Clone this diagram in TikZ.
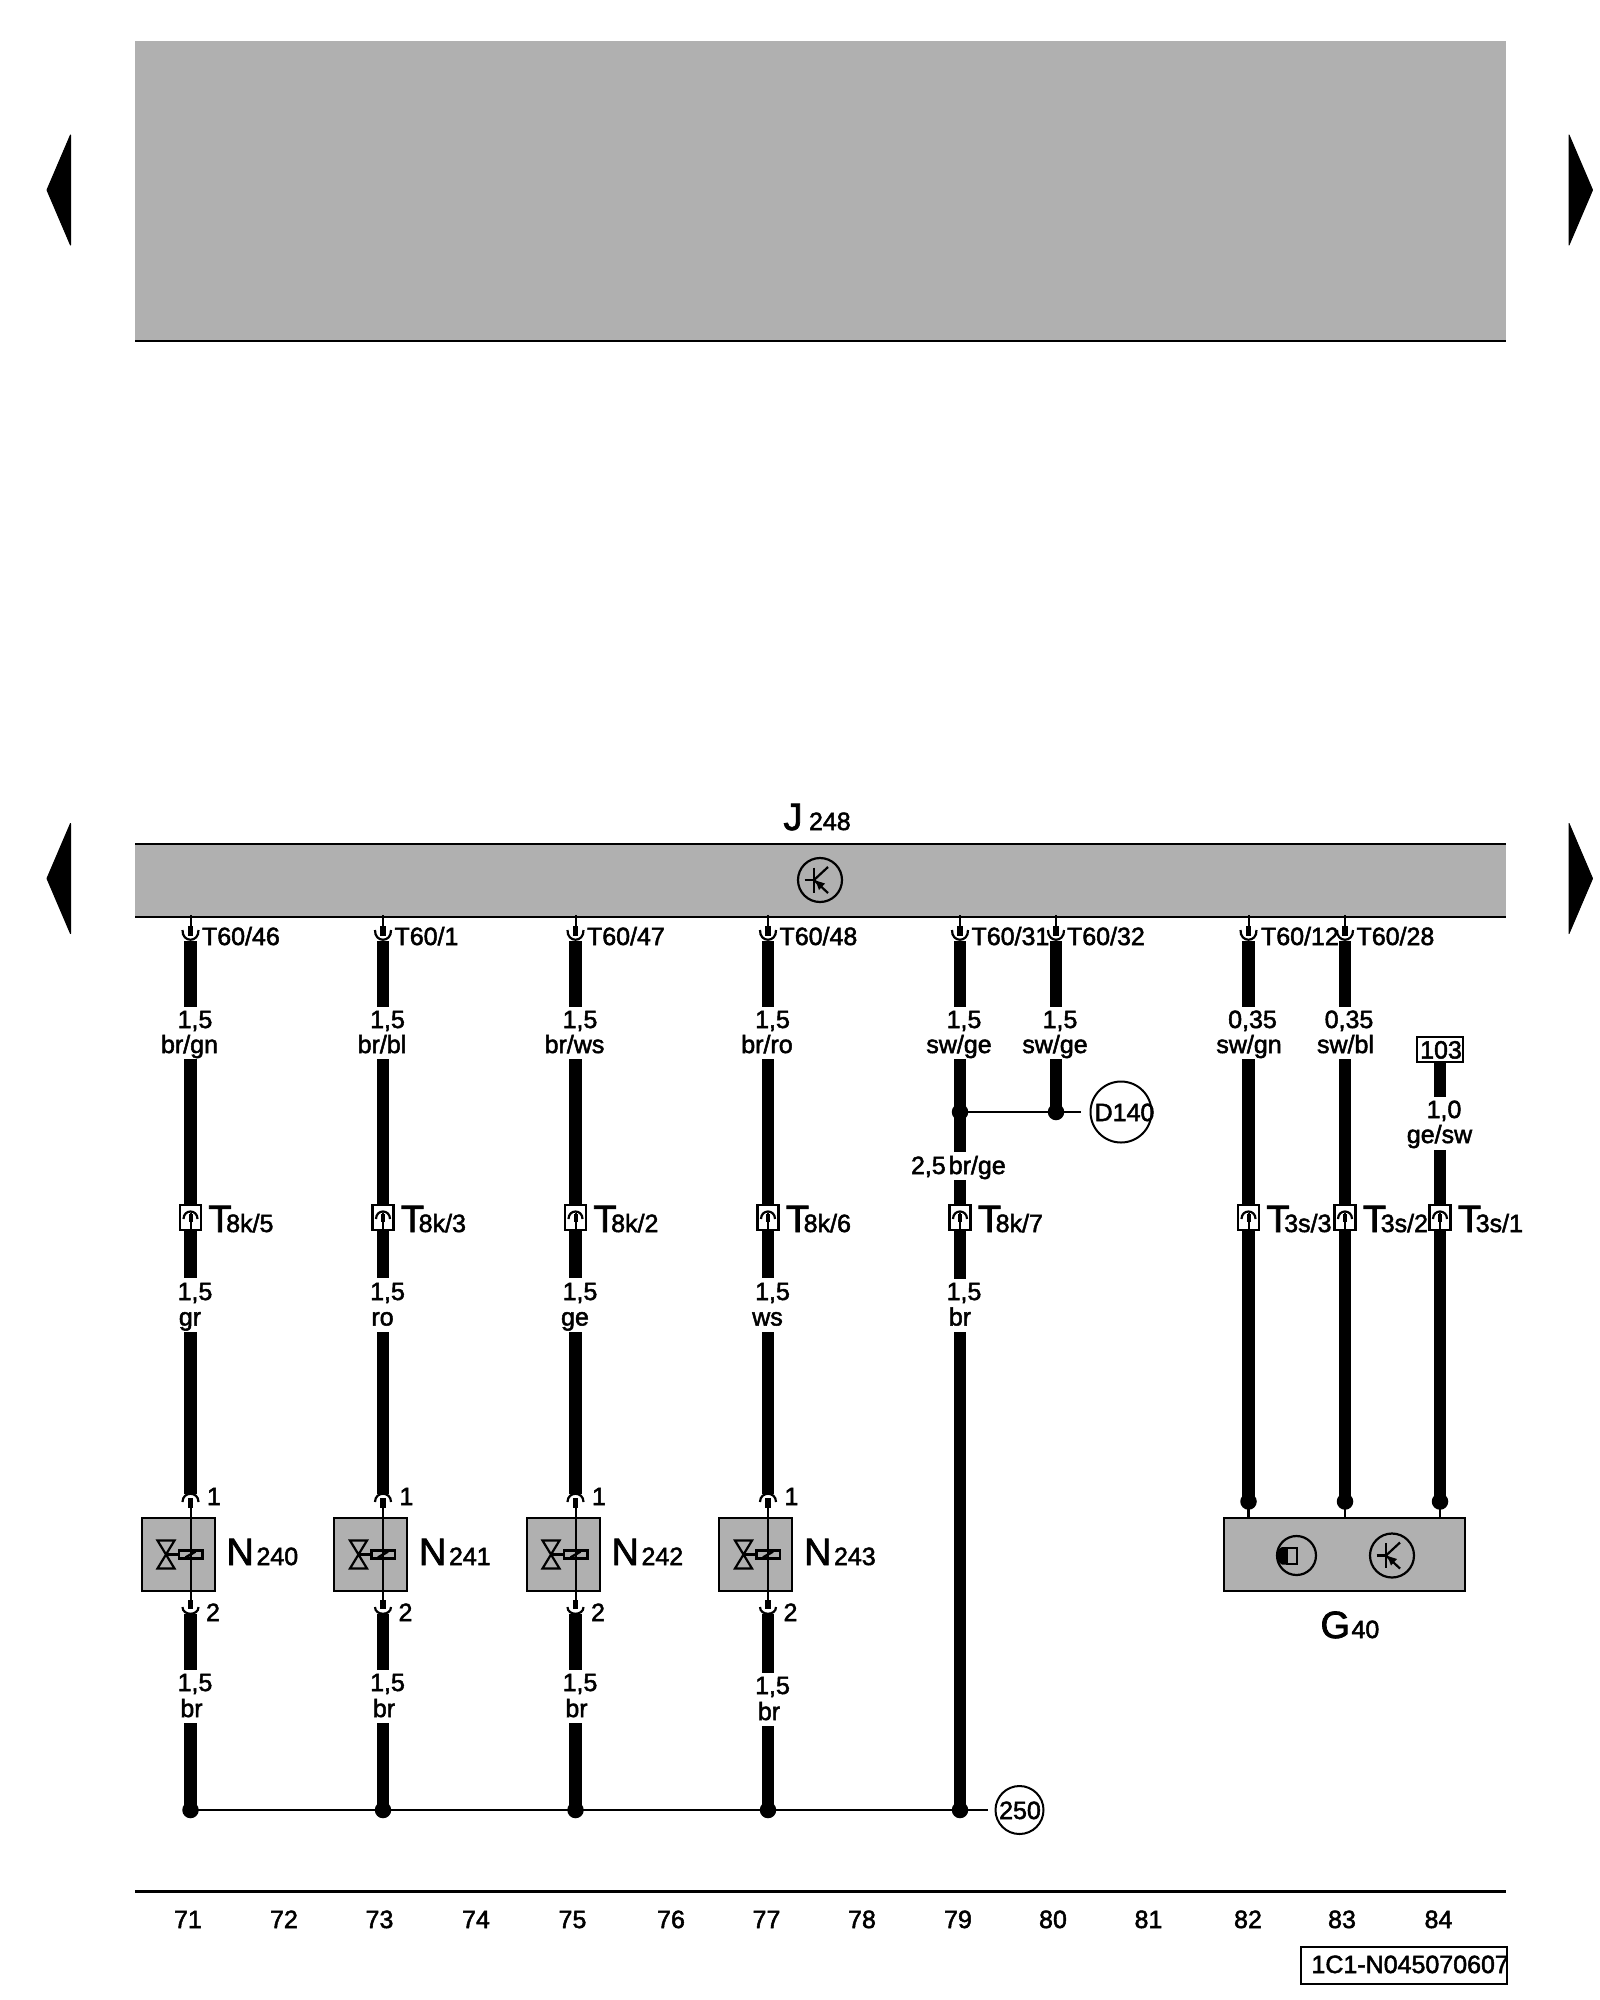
\documentclass[tikz,border=0pt]{standalone}
\usepackage{fontspec}
\setmainfont[FakeBold=2]{Liberation Sans}
\definecolor{panel}{HTML}{B0B0B0}
\newcommand{\txta}{\fontsize{25}{25}\selectfont}
\newcommand{\txtb}{\fontsize{38}{38}\selectfont}
\tikzset{
  bigwire/.style={line width=12.5pt,line cap=butt,black},
  thinwire/.style={line width=2.2pt,black},
  panelbox/.style={fill=panel,draw=black,line width=2.2pt},
  lbl/.style={inner sep=0pt,outer sep=0pt,font=\txta,anchor=base},
  lblw/.style={inner sep=0pt,outer sep=0pt,font=\txta,anchor=base west},
  big/.style={inner sep=0pt,outer sep=0pt,font=\txtb,anchor=base west},
  jdot/.style={circle,fill=black,inner sep=0pt,minimum size=16.5pt},
  refcircle/.style={circle,draw=black,line width=2pt,inner sep=0pt,minimum size=#1},
  triangle mark/.style={fill=black,line join=round,draw=black,line width=1pt},
  pintop/.pic={
    \draw[line width=2pt] (0,-2) -- (0,12);
    \draw[line width=5.5pt] (0,9) -- (0,19);
    \draw[line width=2.2pt] (-8,13) .. controls (-8.5,26) and (8.5,26) .. (8,13);
  },
  pinbelow/.pic={
    \draw[line width=5.5pt] (0,-10) -- (0,-1);
    \draw[line width=2.2pt] (-8,-3) .. controls (-8,6) and (8,6) .. (8,-3);
  },
  pinabove/.pic={
    \draw[line width=5.5pt] (0,1) -- (0,11);
    \draw[line width=2.2pt] (-8,5) .. controls (-8,-6) and (8,-6) .. (8,5);
  },
  plugbox/.pic={
    \draw[fill=white,line width=2.2pt] (-10.5,0) rectangle (10.5,25);
    \draw[line width=2.2pt] (-7,14) .. controls (-7,4) and (7,4) .. (7,14);
    \draw[line width=2pt] (0,8) -- (0,25);
    \draw[line width=4pt] (0,9) -- (0,17);
  },
  transsym/.pic={
    \draw[line width=2.2pt] (0,0) circle (22);
    \draw[line width=2.2pt] (-15.5,0) -- (-6,0);
    \draw[line width=2.2pt] (-6,-12.5) -- (-6,12.5);
    \draw[line width=2.2pt] (-6,0) -- (8,-13);
    \draw[line width=2.2pt] (-6,0) -- (8,13);
    \fill (-4.5,0.5) -- (5,3.5) -- (-1,10) -- cycle;
  },
  valvesym/.pic={
    \draw[line width=2.2pt] (-33,-14) -- (-16,-14) -- (-33,14) -- (-16,14) -- cycle;
    \draw[line width=2.2pt] (-24.5,0) -- (-11.5,0);
    \draw[line width=2.2pt,fill=panel] (-11.5,-4) rectangle (12,4);
    \draw[line width=2pt] (0,-50) -- (0,46);
    \draw[line width=2.5pt] (-5,3) -- (5,-3);
  }
}
\begin{document}
\begin{tikzpicture}[x=1pt,y=-1pt]
\useasboundingbox (0,0) rectangle (1600,2000);
\fill[white] (0,0) rectangle (1600,2000);
% page arrows and panels
\foreach \n/\cy in {a/190,b/878.5}{
  \filldraw[triangle mark] (47,\cy) -- (70.5,\cy-55) -- (70.5,\cy+55) -- cycle;
  \filldraw[triangle mark] (1592.5,\cy) -- (1569,\cy-55) -- (1569,\cy+55) -- cycle;
}
\fill[panel] (135,41) rectangle (1505.5,340.5);
\coordinate (topl) at (135,341);
\coordinate (topr) at (1505.5,341);
\draw[thinwire] (topl) -- (topr);
\fill[panel] (135,844) rectangle (1505.5,917);
\coordinate (jtl) at (135,844); \coordinate (jtr) at (1505.5,844);
\coordinate (jbl) at (135,917); \coordinate (jbr) at (1505.5,917);
\draw[thinwire] (jtl) -- (jtr);
\draw[thinwire] (jbl) -- (jbr);
\node[big] (jname) at (783.5,830) {J};
\node[lblw] (jsub) at (809,830) {248};
\pic at (820,880) {transsym};
% four solenoid columns
\foreach \i/\x/\tp/\ca/\tk/\cb/\nn/\dd in {
  1/190.5/T60\slash 46/br\slash gn/8k\slash 5/gr/240/0,
  2/383/T60\slash 1/br\slash bl/8k\slash 3/ro/241/0,
  3/575.5/T60\slash 47/br\slash ws/8k\slash 2/ge/242/0,
  4/768/T60\slash 48/br\slash ro/8k\slash 6/ws/243/3}{
  \pic at (\x,917) {pintop};
  \coordinate (w\i-a) at (\x,941);
  \coordinate (w\i-b) at (\x,1006.5);
  \coordinate (w\i-c) at (\x,1059);
  \coordinate (w\i-d) at (\x,1278);
  \coordinate (w\i-e) at (\x,1332);
  \coordinate (w\i-f) at (\x,1494);
  \coordinate (w\i-g) at (\x,1614);
  \coordinate (w\i-h) at (\x,1670+\dd);
  \coordinate (w\i-i) at (\x,1723+\dd);
  \node[jdot] (w\i-dot) at (\x,1810) {};
  \draw[bigwire] (w\i-a) -- (w\i-b);
  \draw[bigwire] (w\i-c) -- (w\i-d);
  \draw[bigwire] (w\i-e) -- (w\i-f);
  \draw[bigwire] (w\i-g) -- (w\i-h);
  \draw[bigwire] (w\i-i) -- (w\i-dot.center);
  \node[lblw] (tp\i) at (\x+11.5,945) {\tp};
  \node[lbl] (sa\i) at (\x+4.5,1028) {1,5};
  \node[lbl] (ca\i) at (\x-1,1053) {\ca};
  \pic at (\x,1205) {plugbox};
  \node[big] (tk\i) at (\x+18,1232) {T\kern-5.5pt{\txta\tk}};
  \node[lbl] (sb\i) at (\x+4.5,1300) {1,5};
  \node[lbl] (cb\i) at (\x-0.5,1325.5) {\cb};
  \node[panelbox,minimum width=73pt,minimum height=72.5pt,inner sep=0pt] (nb\i) at (\x-12.2,1554.5) {};
  \pic at (\x,1554.5) {valvesym};
  \pic at (\x,1497) {pinabove};
  \pic at (\x,1610) {pinbelow};
  \node[lbl] (pa\i) at (\x+23.5,1505) {1};
  \node[lbl] (pb\i) at (\x+22.5,1621) {2};
  \node[big] (nl\i) at (\x+36,1565) {N};
  \node[lblw] (ns\i) at (\x+66,1565) {\nn};
  \node[lbl] (sc\i) at (\x+4.5,1691+\dd) {1,5};
  \node[lbl] (cc\i) at (\x+1,1717+\dd) {br};
}
% wire 5
\pic at (960,917) {pintop};
\coordinate (w5-a) at (960,941);
\coordinate (w5-b) at (960,1006.5);
\coordinate (w5-c) at (960,1059);
\node[jdot] (w5-j) at (960,1112) {};
\coordinate (w5-d) at (960,1152);
\coordinate (w5-e) at (960,1180);
\coordinate (w5-f) at (960,1279);
\coordinate (w5-g) at (960,1332);
\node[jdot] (w5-dot) at (960,1810) {};
\draw[bigwire] (w5-a) -- (w5-b);
\draw[bigwire] (w5-c) -- (w5-d);
\draw[bigwire] (w5-e) -- (w5-f);
\draw[bigwire] (w5-g) -- (w5-dot.center);
\node[lblw] (tp5) at (971.5,945) {T60/31};
\node[lbl] (sa5) at (964,1028) {1,5};
\node[lbl] (ca5) at (959,1053) {sw/ge};
\node[lblw] (ca5b) at (911,1174) {2,5\hspace{3pt}br/ge};
\pic at (960,1205) {plugbox};
\node[big] (tk5) at (978,1232) {T\kern-5.5pt{\txta 8k/7}};
\node[lbl] (sb5) at (964,1300) {1,5};
\node[lbl] (cb5) at (960,1325.5) {br};
% wire 6
\pic at (1056,917) {pintop};
\coordinate (w6-a) at (1056,941);
\coordinate (w6-b) at (1056,1006.5);
\coordinate (w6-c) at (1056,1059);
\node[jdot] (w6-j) at (1056,1112) {};
\draw[bigwire] (w6-a) -- (w6-b);
\draw[bigwire] (w6-c) -- (w6-j.center);
\node[lblw] (tp6) at (1067,945) {T60/32};
\node[lbl] (sa6) at (1060,1028) {1,5};
\node[lbl] (ca6) at (1055,1053) {sw/ge};
\node[refcircle=61pt] (d140) at (1121,1112) {};
\node[lbl] (d140t) at (1124.5,1121) {D140};
\coordinate (d140in) at (1080.5,1112);
\draw[thinwire] (w5-j.center) -- (w6-j.center) -- (d140in);
% bus to 250
\node[refcircle=48pt] (g250) at (1019.5,1810) {};
\node[lbl] (g250t) at (1020,1819) {250};
\coordinate (g250in) at (988,1810);
\draw[thinwire] (w1-dot.center) -- (w2-dot.center) -- (w3-dot.center) -- (w4-dot.center) -- (w5-dot.center) -- (g250in);
% G40 group
\node[panelbox,minimum width=241pt,minimum height=72.5pt,inner sep=0pt] (g40) at (1344.5,1554.5) {};
\pic at (1392,1555.5) {transsym};
\draw[line width=2.2pt] (1296.5,1555.5) circle (19.5);
\fill (1287,1547) -- (1282,1547) .. controls (1275,1550) and (1275,1561) .. (1282,1564.5) -- (1287,1564.5) -- cycle;
\draw[line width=2.2pt,fill=panel] (1287,1548) rectangle (1297,1564);
\foreach \i/\x/\tp/\tpx/\sz/\ca/\tk in {
  7/1248.5/T60\slash 12/1261/{0,35}/sw\slash gn/3s\slash 3,
  8/1345/T60\slash 28/1356.5/{0,35}/sw\slash bl/3s\slash 2}{
  \pic at (\x,917) {pintop};
  \coordinate (w\i-a) at (\x,941);
  \coordinate (w\i-b) at (\x,1006.5);
  \coordinate (w\i-c) at (\x,1059);
  \node[jdot] (w\i-dot) at (\x,1501.5) {};
  \coordinate (w\i-box) at (\x,1518);
  \draw[bigwire] (w\i-a) -- (w\i-b);
  \draw[bigwire] (w\i-c) -- (w\i-dot.center);
  \draw[thinwire] (w\i-dot.center) -- (w\i-box);
  \node[lblw] (tp\i) at (\tpx,945) {\tp};
  \node[lbl] (sa\i) at (\x+4,1028) {\sz};
  \node[lbl] (ca\i) at (\x+0.5,1053) {\ca};
  \pic at (\x,1205) {plugbox};
  \node[big] (tk\i) at (\x+18,1232) {T\kern-5.5pt{\txta\tk}};
}
% wire 9
\node[draw=black,line width=2.2pt,minimum width=46pt,minimum height=25pt,inner sep=0pt] (r103) at (1440,1049.5) {};
\node[lbl] (r103t) at (1441,1058.5) {103};
\coordinate (w9-a) at (1440,1097);
\coordinate (w9-b) at (1440,1150);
\node[jdot] (w9-dot) at (1440,1501.5) {};
\coordinate (w9-box) at (1440,1518);
\draw[bigwire] (r103.south) -- (w9-a);
\draw[bigwire] (w9-b) -- (w9-dot.center);
\draw[thinwire] (w9-dot.center) -- (w9-box);
\node[lbl] (sa9) at (1444,1118) {1,0};
\node[lbl] (ca9) at (1439.5,1143) {ge/sw};
\pic at (1440,1205) {plugbox};
\node[big] (tk9) at (1458,1232) {T\kern-5.5pt{\txta 3s/1}};
\node[big] (gl) at (1320.5,1638) {G};
\node[lblw] (gs) at (1351.5,1638) {40};
% footer
\coordinate (fl) at (135,1891.5); \coordinate (fr) at (1505.5,1891.5);
\draw[thinwire] (fl) -- (fr);
\foreach \n/\x in {71/188,72/284,73/379.5,74/476,75/572.5,76/671,77/766.5,78/862,79/958,80/1053,81/1148.5,82/1248,83/1342,84/1438.5}{
  \node[lbl] (num\n) at (\x,1928) {\n};
}
\node[draw=black,line width=2.2pt,minimum width=205.5pt,minimum height=36.5pt,inner sep=0pt] (codebox) at (1404,1965.5) {};
\node[lblw] (code) at (1311.5,1973) {1C1-N045070607};
\end{tikzpicture}
\end{document}
